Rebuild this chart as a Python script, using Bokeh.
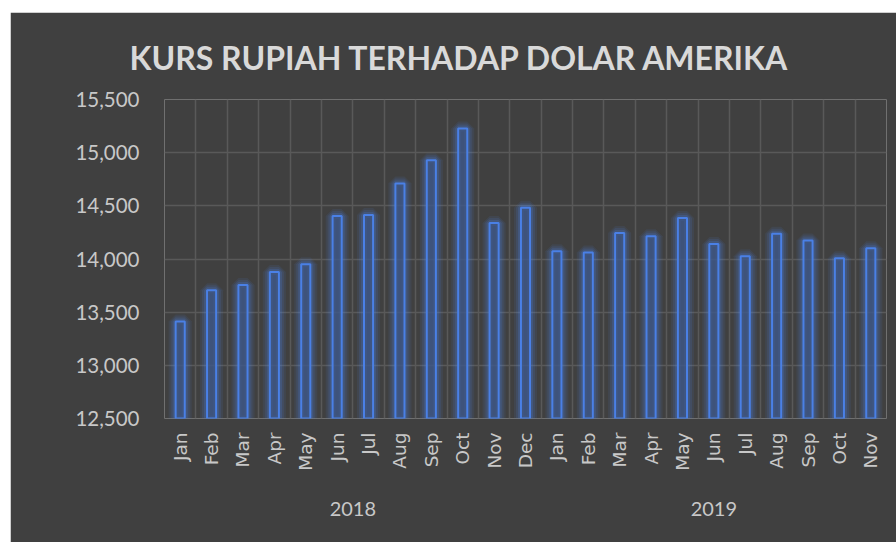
import math
from bokeh.plotting import figure
from bokeh.models import FactorRange, Range1d, FixedTicker, NumeralTickFormatter, ColumnDataSource, CategoricalAxis
from bokeh.embed import file_html
from bokeh.resources import INLINE

# ---- data ----
years = ["2018"] * 12 + ["2019"] * 11
months = ["Jan", "Feb", "Mar", "Apr", "May", "Jun", "Jul", "Aug", "Sep", "Oct", "Nov", "Dec",
          "Jan", "Feb", "Mar", "Apr", "May", "Jun", "Jul", "Aug", "Sep", "Oct", "Nov"]
kurs = [13413, 13707, 13756, 13877, 13951, 14404, 14413, 14711, 14929, 15227, 14339, 14481,
        14072, 14062, 14244, 14215, 14385, 14141, 14026, 14237, 14174, 14008, 14102]
y_ticks = [12500, 13000, 13500, 14000, 14500, 15000, 15500]
title_text = "KURS RUPIAH TERHADAP DOLAR AMERIKA"

factors = list(zip(years, months))
y_min = y_ticks[0]
y_max = y_ticks[-1]

source = ColumnDataSource(dict(x=factors, top=kurs, bottom=[y_min] * len(kurs)))

BG = "#404040"
GRID = "#595959"
LABEL = "#c8c8c8"
BLUE = "#4a80e6"

p = figure(
    width=886, height=530,
    x_range=FactorRange(factors=factors, group_padding=0, factor_padding=0, range_padding=0),
    y_range=Range1d(y_min, y_max),
    output_backend="svg", toolbar_location=None,
    min_border_left=154, min_border_right=10, min_border_top=87, min_border_bottom=124,
)
p.margin = (12, 0, 0, 10)
p.background_fill_color = BG
p.border_fill_color = BG
p.outline_line_color = None

# title
p.title.text = title_text
p.title.align = "left"
p.title.offset = -35
p.title.standoff = 46
p.title.text_font = "Lato"
p.title.text_font_style = "bold"
p.title.text_font_size = "32px"
p.title.text_color = "#d9d9d9"

# grid
p.ygrid.ticker = FixedTicker(ticks=y_ticks)
p.ygrid.grid_line_color = GRID
p.ygrid.grid_line_width = 1.5
p.xgrid.ticker = FixedTicker(ticks=list(range(len(factors) + 1)))
p.xgrid.grid_line_color = GRID
p.xgrid.grid_line_width = 1.5

# glow layers
for lw, la in [(14, 0.09), (10, 0.13), (6, 0.2)]:
    p.vbar(x="x", top="top", bottom="bottom", width=0.29, source=source,
           fill_color=None, line_color=BLUE, line_alpha=la, line_width=lw)
# bars
p.vbar(x="x", top="top", bottom="bottom", width=0.29, source=source,
       fill_color="#3d5584", fill_alpha=0.75, line_color=BLUE, line_width=2)

# y axis
p.yaxis.ticker = FixedTicker(ticks=y_ticks)
p.yaxis.formatter = NumeralTickFormatter(format="0,0")
p.yaxis.axis_line_color = None
p.yaxis.major_tick_line_color = None
p.yaxis.minor_tick_line_color = None
p.yaxis.major_label_text_color = LABEL
p.yaxis.major_label_text_font = "Lato"
p.yaxis.major_label_text_font_size = "20.5px"
p.yaxis.major_label_standoff = 19


def style_x(ax):
    ax.axis_line_color = None
    ax.major_tick_line_color = None
    ax.minor_tick_line_color = None
    ax.separator_line_color = None
    ax.major_tick_out = 0
    ax.major_tick_in = 0


# month axis (group labels hidden)
xa = p.xaxis[0]
style_x(xa)
xa.major_label_orientation = math.pi / 2
xa.major_label_text_color = LABEL
xa.major_label_text_font = "DejaVu Sans"
xa.major_label_text_font_size = "18.5px"
xa.major_label_standoff = 14
xa.group_text_color = None
xa.group_text_font_size = "1px"

# year axis
ya = CategoricalAxis()
style_x(ya)
ya.major_label_text_color = None
ya.major_label_text_font_size = "1px"
ya.major_label_standoff = 28
ya.group_text_color = LABEL
ya.group_text_font = "Lato"
ya.group_text_font_size = "20px"
ya.group_text_font_style = "normal"
p.add_layout(ya, "below")

open("out.html", "w").write(file_html(p, INLINE))
